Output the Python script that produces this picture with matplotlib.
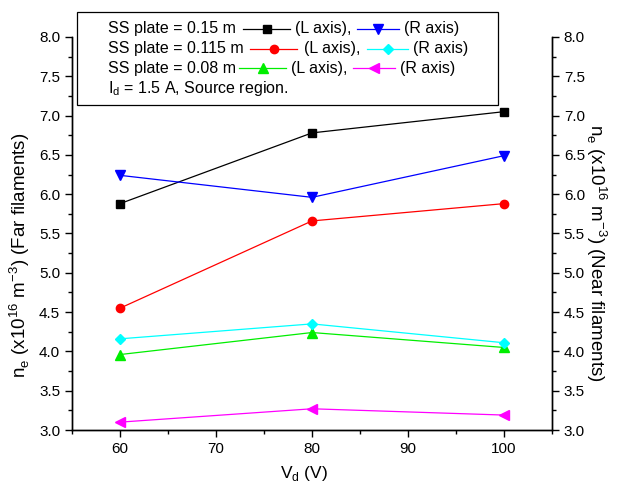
import matplotlib
matplotlib.use("Agg")
import matplotlib.pyplot as plt
from matplotlib.lines import Line2D
from matplotlib.patches import Rectangle
from matplotlib.ticker import MultipleLocator, FormatStrFormatter

plt.rcParams['font.family'] = ['Liberation Sans', 'DejaVu Sans']
plt.rcParams['mathtext.fontset'] = 'custom'
plt.rcParams['mathtext.rm'] = 'Liberation Sans'

W, H = 627, 486

# data
vd = [60, 80, 100]
# left axis (far filaments)
far_015 = [5.88, 6.78, 7.05]
far_0115 = [4.55, 5.66, 5.88]
far_008 = [3.96, 4.24, 4.05]
# right axis (near filaments)
near_015 = [6.24, 5.96, 6.49]
near_0115 = [4.16, 4.35, 4.11]
near_008 = [3.10, 3.27, 3.19]

plate_labels = ["SS plate = 0.15 m", "SS plate = 0.115 m", "SS plate = 0.08 m"]

styles_L = [('black', 's'), ('red', 'o'), ('#00ee00', '^')]
styles_R = [('blue', 'v'), ('cyan', 'D'), ('magenta', '<')]
MS = {'s': 5.5, 'o': 6, '^': 6.5, 'v': 6.5, 'D': 5, '<': 6.5}


def px(x, y):
    return x / W, 1 - y / H


fig = plt.figure(figsize=(W / 100, H / 100), dpi=100)
ax = fig.add_axes([72 / W, 1 - 430 / H, (552 - 72) / W, (430 - 37) / H])
ax2 = ax.twinx()

for ys, (c, m) in zip([far_015, far_0115, far_008], styles_L):
    ax.plot(vd, ys, color=c, marker=m, lw=0.9, ms=MS[m], clip_on=False)
for ys, (c, m) in zip([near_015, near_0115, near_008], styles_R):
    ax2.plot(vd, ys, color=c, marker=m, lw=0.9, ms=MS[m], clip_on=False)

for a in (ax, ax2):
    a.set_ylim(3.0, 8.0)
    a.yaxis.set_major_locator(MultipleLocator(0.5))
    a.yaxis.set_minor_locator(MultipleLocator(0.25))
    a.spines['top'].set_visible(False)
    for s in a.spines.values():
        s.set_linewidth(1.0)
    a.tick_params(which='major', length=5, width=1, labelsize=11)
    a.tick_params(which='minor', length=3, width=1)
    a.yaxis.set_major_formatter(FormatStrFormatter('%.1f'))

ax.set_xlim(55, 105)
ax.xaxis.set_major_locator(MultipleLocator(10))
ax.xaxis.set_minor_locator(MultipleLocator(5))

ax.set_xlabel(r'V$_\mathregular{d}$ (V)', fontsize=12.5, va='top')
ax.xaxis.set_label_coords(0.483, -0.086)
ax.set_ylabel(r'n$_\mathregular{e}$ (x10$^\mathregular{16}$ m$^\mathregular{-3}$) (Far filaments)',
              fontsize=13.5, va='bottom')
ax.yaxis.set_label_coords(-0.083, 0.445)
ax2.set_ylabel(r'n$_\mathregular{e}$ (x10$^\mathregular{16}$ m$^\mathregular{-3}$) (Near filaments)',
               fontsize=13.5, rotation=270, va='bottom')
ax2.yaxis.set_label_coords(1.066, 0.45)

# legend box drawn by hand
x0, y0 = px(77, 105)
x1, y1 = px(498, 12)
fig.patches.append(Rectangle((x0, y0), x1 - x0, y1 - y0, transform=fig.transFigure,
                             facecolor='white', edgecolor='black', lw=0.9, zorder=5))

rows_y = [29, 49, 68]
h1 = [(243, 290), (250, 297), (239, 286)]
l_axis_x = [295, 304, 291]
h2 = [(357, 399), (367, 408), (353, 395)]
r_axis_x = [404, 413, 400]
FS = 11.5

for i, lab in enumerate(plate_labels):
    y = rows_y[i]
    fig.text(*px(108, y), lab, fontsize=FS, va='center', ha='left', zorder=6)
    for (xa, xb), (c, m) in ((h1[i], styles_L[i]), (h2[i], styles_R[i])):
        xs = [px(xa, y)[0], px(xb, y)[0]]
        yy = px(xa, y)[1]
        fig.lines.append(Line2D(xs, [yy, yy], transform=fig.transFigure, color=c, lw=0.9, zorder=6))
        fig.lines.append(Line2D([(xs[0] + xs[1]) / 2], [yy], transform=fig.transFigure,
                                color=c, marker=m, ms=MS[m], lw=0, zorder=7))
    fig.text(*px(l_axis_x[i], y), "(L axis),", fontsize=FS, va='center', ha='left', zorder=6)
    fig.text(*px(r_axis_x[i], y), "(R axis)", fontsize=FS, va='center', ha='left', zorder=6)

fig.text(*px(108, 88), r'I$_\mathregular{d}$ = 1.5 A, Source region.', fontsize=FS,
         va='center', ha='left', zorder=6)

fig.savefig('out.png', dpi=100)
